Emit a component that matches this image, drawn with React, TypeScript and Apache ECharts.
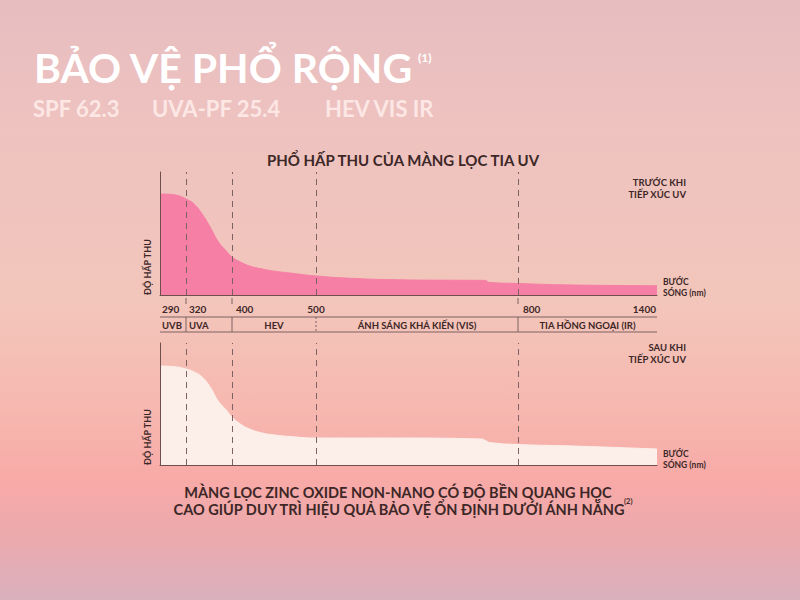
import React, { useEffect, useRef } from "react";
import * as echarts from "echarts";

// ---- axis scale definition (non-linear wavelength axis) ----
const WAVELENGTH_BREAKS = [290, 320, 400, 500, 800, 1400];
const AXIS_SEGMENT_ENDS = [0, 26, 72, 156, 358, 497];

// ---- tick labels & bands ----
const TICK_LABELS = ["290", "320", "400", "500", "800", "1400"];
const DASHED_AT = [320, 400, 500, 800];
const BANDS = [
  { name: "UVB", from: 290, to: 320 },
  { name: "UVA", from: 320, to: 400 },
  { name: "HEV", from: 400, to: 500 },
  { name: "ÁNH SÁNG KHẢ KIẾN (VIS)", from: 500, to: 800 },
  { name: "TIA HỒNG NGOẠI (IR)", from: 800, to: 1400 },
];

// ---- series: before UV exposure (wavelength nm, absorbance) ----
const BEFORE_NM = [290, 299, 308, 320, 334, 348, 362, 376, 390, 400, 410, 421, 436, 451, 469, 500, 550, 624, 699, 752, 756, 800, 1037, 1400];
const BEFORE_ABS = [1.01, 1.008, 1.0, 0.96, 0.91, 0.81, 0.68, 0.535, 0.44, 0.38, 0.33, 0.29, 0.26, 0.238, 0.22, 0.19, 0.168, 0.152, 0.148, 0.146, 0.127, 0.115, 0.1, 0.093];

// ---- series: after UV exposure ----
const AFTER_NM = [290, 304, 320, 334, 348, 362, 376, 390, 400, 410, 421, 436, 451, 469, 500, 624, 746, 752, 758, 800, 1037, 1400];
const AFTER_ABS = [0.99, 0.985, 0.96, 0.93, 0.88, 0.78, 0.64, 0.55, 0.48, 0.41, 0.36, 0.32, 0.3, 0.285, 0.27, 0.27, 0.26, 0.245, 0.225, 0.205, 0.19, 0.16];

const TITLE = "BẢO VỆ PHỔ RỘNG";
const SUBTITLES = ["SPF 62.3", "UVA-PF 25.4", "HEV VIS IR"];
const CHART_TITLE = "PHỔ HẤP THU CỦA MÀNG LỌC TIA UV";
const CAPTION = [
  "MÀNG LỌC ZINC OXIDE NON-NANO CÓ ĐỘ BỀN QUANG HỌC",
  "CAO GIÚP DUY TRÌ HIỆU QUẢ BẢO VỆ ỔN ĐỊNH DƯỚI ÁNH NẮNG",
];

function axisPos(nm: number): number {
  for (let i = 0; i < WAVELENGTH_BREAKS.length - 1; i++) {
    const a = WAVELENGTH_BREAKS[i];
    const b = WAVELENGTH_BREAKS[i + 1];
    if (nm <= b || i === WAVELENGTH_BREAKS.length - 2) {
      const t = (nm - a) / (b - a);
      return AXIS_SEGMENT_ENDS[i] + t * (AXIS_SEGMENT_ENDS[i + 1] - AXIS_SEGMENT_ENDS[i]);
    }
  }
  return 0;
}

const FONT = "Lato, 'Open Sans', sans-serif";
const DARK = "#3d2727";
const LINE = "#7d6262";

export default function App() {
  const ref = useRef<HTMLDivElement>(null);

  useEffect(() => {
    if (!ref.current) return;
    const chart = echarts.init(ref.current, null, { renderer: "svg" });
    const xMax = AXIS_SEGMENT_ENDS[AXIS_SEGMENT_ENDS.length - 1];

    const mkSeries = (nm: number[], abs: number[], idx: number, color: string) => ({
      type: "line",
      xAxisIndex: idx,
      yAxisIndex: idx,
      data: nm.map((w, i) => [axisPos(w), abs[i]]),
      showSymbol: false,
      smooth: 0.5,
      lineStyle: { width: 1, color },
      itemStyle: { color },
      areaStyle: { color, opacity: 1 },
      z: 2,
      markLine: {
        silent: true,
        symbol: "none",
        label: { show: false },
        lineStyle: { color: LINE, type: [6, 5], width: 1 },
        data: DASHED_AT.map((w) => ({ xAxis: axisPos(w) })),
        z: 3,
      },
    });

    const xAxisBase = (gridIndex: number) => ({
      type: "value",
      gridIndex,
      min: 0,
      max: xMax,
      axisLine: { show: true, onZero: false, lineStyle: { color: "#6f4f4c", width: 1 } },
      axisTick: { show: false },
      axisLabel: { show: false },
      splitLine: { show: false },
      z: 5,
    });
    const yAxisBase = (gridIndex: number, max: number) => ({
      type: "value",
      gridIndex,
      min: 0,
      max,
      axisLine: { show: true, lineStyle: { color: "#6f4f4c", width: 1 } },
      axisTick: { show: false },
      axisLabel: { show: false },
      splitLine: { show: false },
      z: 5,
    });

    chart.setOption({
      animation: false,
      backgroundColor: "transparent",
      grid: [
        { left: 160, top: 172, width: 497, height: 123 },
        { left: 160, top: 343, width: 497, height: 122 },
      ],
      xAxis: [xAxisBase(0), xAxisBase(1)],
      yAxis: [yAxisBase(0, 1.23), yAxisBase(1, 1.22)],
      series: [
        mkSeries(BEFORE_NM, BEFORE_ABS, 0, "#f67fa5"),
        mkSeries(AFTER_NM, AFTER_ABS, 1, "#fcefe9"),
      ],
    });

    const X = (nm: number) => chart.convertToPixel({ xAxisIndex: 0 }, axisPos(nm)) as number;
    const txt = (text: string, x: number, y: number, size: number, opts: any = {}) => ({
      type: "text",
      x,
      y,
      rotation: opts.rotation || 0,
      silent: true,
      style: {
        text,
        fill: opts.fill || DARK,
        fontSize: size,
        fontWeight: opts.weight || "bold",
        fontFamily: FONT,
        align: opts.align || "left",
        verticalAlign: "middle",
      },
    });
    const seg = (x1: number, y1: number, x2: number, y2: number, dash?: number[]) => ({
      type: "line",
      silent: true,
      shape: { x1, y1, x2, y2 },
      style: { stroke: LINE, lineWidth: 1, lineDash: dash },
    });

    const g: any[] = [];
    // titles
    g.push(txt(TITLE, 34, 67, 41, { fill: "#ffffff", weight: "bold" }));
    g.push(txt("(1)", 418, 57, 12, { fill: "#ffffff" }));
    const subX = [33, 152, 325];
    SUBTITLES.forEach((s, i) => g.push(txt(s, subX[i], 108, 22, { fill: "#fce7e5", weight: "bold" })));
    g.push(txt(CHART_TITLE, 403, 160, 15, { align: "center" }));

    // y axis names
    const x0 = X(290);
    const x1 = X(1400);
    g.push(txt("ĐỘ HẤP THU", 147, 295, 9, { rotation: Math.PI / 2 }));
    g.push(txt("ĐỘ HẤP THU", 147, 465, 9, { rotation: Math.PI / 2 }));

    // right-side labels
    g.push(txt("TRƯỚC KHI", x1 + 29, 182, 9.5, { align: "right" }));
    g.push(txt("TIẾP XÚC UV", x1 + 29, 194, 9.5, { align: "right" }));
    g.push(txt("SAU KHI", x1 + 29, 347, 9.5, { align: "right" }));
    g.push(txt("TIẾP XÚC UV", x1 + 29, 359, 9.5, { align: "right" }));
    g.push(txt("BƯỚC", x1 + 6, 282, 8.5));
    g.push(txt("SÓNG (nm)", x1 + 6, 293, 8.5));
    g.push(txt("BƯỚC", x1 + 6, 454, 8.5));
    g.push(txt("SÓNG (nm)", x1 + 6, 465, 8.5));

    // tick labels
    const tickAlign = ["left", "left", "left", "center", "left", "right"];
    const tickShift = [2, 3, 4, 0, 5, -1];
    WAVELENGTH_BREAKS.forEach((w, i) =>
      g.push(txt(TICK_LABELS[i], X(w) + tickShift[i], 309, 10, { align: tickAlign[i] }))
    );
    // dashed continuation below top chart
    [320, 400, 800].forEach((w) => g.push(seg(X(w), 298, X(w), 307, [6, 5])));

    // band row
    g.push(seg(x0, 317, x1, 317));
    g.push(seg(x0, 332, x1, 332));
    [320, 400, 800].forEach((w) => g.push(seg(X(w), 317, X(w), 332)));
    g.push(seg(X(500), 317, X(500), 332, [2, 2]));
    BANDS.forEach((b, i) => {
      if (i < 2) g.push(txt(b.name, X(b.from) + (i === 0 ? 2 : 3), 325, 9.5));
      else g.push(txt(b.name, (X(b.from) + X(b.to)) / 2, 325, 9.5, { align: "center" }));
    });

    // caption
    g.push(txt(CAPTION[0], 398, 492, 14.5, { align: "center" }));
    g.push(txt(CAPTION[1], 399, 509, 14.5, { align: "center" }));
    g.push(txt("(2)", 624, 501, 7.5));

    chart.setOption({ graphic: g });

    return () => chart.dispose();
  }, []);

  return (
    <div
      style={{
        position: "fixed",
        left: 0,
        top: 0,
        width: 800,
        height: 600,
        background:
          "linear-gradient(to bottom, #e8bdc0 0%, #eec3bf 25%, #f3c6bb 50%, #f6b8b0 68%, #f8aaa7 80%, #eba9ae 90%, #d8b0bd 100%)",
      }}
    >
      <div ref={ref} style={{ width: 800, height: 600 }} />
    </div>
  );
}
